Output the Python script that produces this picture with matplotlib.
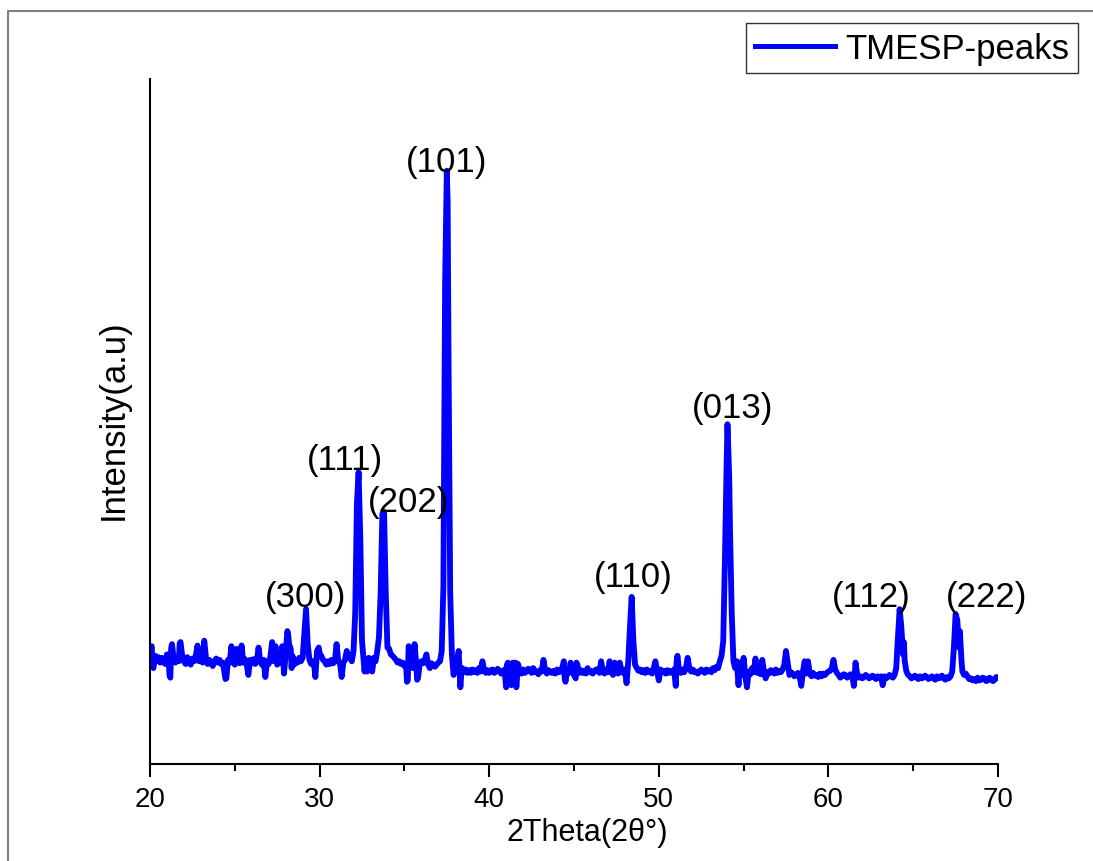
import matplotlib
matplotlib.use("Agg")
import matplotlib.pyplot as plt
from matplotlib.lines import Line2D
from matplotlib.ticker import MultipleLocator

plt.rcParams['font.family'] = ['Liberation Sans', 'DejaVu Sans']

# ---- data ----
two_theta = [
    20.0, 20.05, 20.1, 20.15, 20.2, 20.3, 20.4, 20.5, 20.6, 20.7,
    20.8, 20.9, 21.0, 21.1, 21.15, 21.2, 21.25, 21.3, 21.4, 21.5,
    21.6, 21.7, 21.75, 21.8, 21.9, 22.0, 22.1, 22.2, 22.3, 22.4,
    22.5, 22.6, 22.7, 22.8, 22.9, 23.0, 23.1, 23.2, 23.3, 23.4,
    23.5, 23.6, 23.7, 23.8, 23.9, 24.0, 24.1, 24.2, 24.3, 24.45,
    24.5, 24.6, 24.7, 24.8, 24.9, 25.0, 25.1, 25.2, 25.3, 25.4,
    25.5, 25.6, 25.7, 25.8, 25.9, 26.0, 26.1, 26.2, 26.3, 26.4,
    26.5, 26.6, 26.7, 26.8, 26.9, 27.0, 27.1, 27.2, 27.3, 27.4,
    27.5, 27.6, 27.7, 27.8, 27.85, 27.9, 28.0, 28.1, 28.15, 28.2,
    28.3, 28.35, 28.4, 28.5, 28.6, 28.7, 28.8, 28.9, 29.0, 29.1,
    29.2, 29.3, 29.4, 29.5, 29.6, 29.7, 29.75, 29.85, 29.95, 30.0,
    30.1, 30.2, 30.3, 30.4, 30.5, 30.6, 30.7, 30.8, 30.9, 31.0,
    31.1, 31.2, 31.3, 31.4, 31.5, 31.6, 31.7, 31.8, 31.9, 32.0,
    32.1, 32.2, 32.3, 32.4, 32.5, 32.6, 32.65, 32.7, 32.8, 32.9,
    33.0, 33.1, 33.2, 33.3, 33.4, 33.5, 33.6, 33.7, 33.8, 33.9,
    34.0, 34.1, 34.2, 34.3, 34.4, 34.5, 34.6, 34.7, 34.8, 34.9,
    35.0, 35.1, 35.15, 35.2, 35.25, 35.3, 35.4, 35.5, 35.6, 35.7,
    35.75, 35.8, 35.9, 36.0, 36.1, 36.2, 36.3, 36.4, 36.5, 36.6,
    36.7, 36.8, 36.9, 37.0, 37.1, 37.2, 37.3, 37.4, 37.5, 37.55,
    37.6, 37.7, 37.8, 37.9, 38.0, 38.1, 38.2, 38.25, 38.3, 38.35,
    38.4, 38.5, 38.6, 38.7, 38.8, 38.9, 39.0, 39.1, 39.2, 39.3,
    39.4, 39.5, 39.6, 39.7, 39.8, 39.9, 40.0, 40.1, 40.2, 40.3,
    40.4, 40.5, 40.6, 40.7, 40.8, 40.9, 41.0, 41.05, 41.1, 41.15,
    41.2, 41.3, 41.35, 41.4, 41.5, 41.55, 41.6, 41.7, 41.8, 41.9,
    42.0, 42.1, 42.2, 42.3, 42.4, 42.5, 42.6, 42.7, 42.8, 42.9,
    43.0, 43.1, 43.2, 43.3, 43.4, 43.5, 43.6, 43.7, 43.8, 43.9,
    44.0, 44.1, 44.2, 44.3, 44.4, 44.45, 44.5, 44.6, 44.7, 44.8,
    44.9, 45.0, 45.1, 45.15, 45.2, 45.3, 45.4, 45.5, 45.6, 45.7,
    45.8, 45.9, 46.0, 46.1, 46.2, 46.3, 46.4, 46.5, 46.6, 46.7,
    46.8, 46.9, 47.0, 47.1, 47.2, 47.3, 47.4, 47.5, 47.6, 47.7,
    47.8, 47.9, 48.0, 48.1, 48.2, 48.3, 48.4, 48.5, 48.6, 48.7,
    48.8, 48.9, 49.0, 49.1, 49.2, 49.3, 49.4, 49.5, 49.6, 49.7,
    49.8, 49.9, 50.0, 50.1, 50.2, 50.3, 50.4, 50.5, 50.6, 50.7,
    50.8, 50.9, 51.0, 51.05, 51.1, 51.2, 51.3, 51.4, 51.5, 51.6,
    51.7, 51.8, 51.9, 52.0, 52.1, 52.2, 52.3, 52.4, 52.5, 52.6,
    52.7, 52.8, 52.9, 53.0, 53.1, 53.2, 53.3, 53.4, 53.5, 53.6,
    53.7, 53.8, 53.9, 54.0, 54.05, 54.15, 54.2, 54.3, 54.4, 54.5,
    54.6, 54.7, 54.75, 54.8, 54.9, 55.0, 55.1, 55.2, 55.3, 55.4,
    55.5, 55.6, 55.7, 55.8, 55.9, 56.0, 56.1, 56.2, 56.3, 56.4,
    56.5, 56.6, 56.7, 56.8, 56.9, 57.0, 57.1, 57.2, 57.3, 57.4,
    57.5, 57.6, 57.7, 57.8, 57.9, 58.0, 58.1, 58.2, 58.3, 58.4,
    58.5, 58.6, 58.7, 58.8, 58.9, 59.0, 59.1, 59.2, 59.3, 59.4,
    59.5, 59.6, 59.7, 59.8, 59.9, 60.0, 60.1, 60.2, 60.3, 60.4,
    60.5, 60.6, 60.7, 60.8, 60.9, 61.0, 61.1, 61.2, 61.3, 61.4,
    61.5, 61.55, 61.6, 61.7, 61.8, 61.9, 62.0, 62.1, 62.2, 62.3,
    62.4, 62.5, 62.6, 62.7, 62.8, 62.9, 63.0, 63.1, 63.2, 63.3,
    63.4, 63.5, 63.6, 63.7, 63.8, 63.9, 64.0, 64.1, 64.2, 64.3,
    64.4, 64.45, 64.5, 64.6, 64.7, 64.8, 64.9, 65.0, 65.1, 65.2,
    65.3, 65.4, 65.5, 65.6, 65.7, 65.8, 65.9, 66.0, 66.1, 66.2,
    66.3, 66.4, 66.5, 66.6, 66.7, 66.8, 66.9, 67.0, 67.1, 67.2,
    67.3, 67.4, 67.5, 67.6, 67.7, 67.75, 67.85, 67.9, 68.0, 68.1,
    68.2, 68.3, 68.4, 68.5, 68.6, 68.7, 68.8, 68.9, 69.0, 69.1,
    69.2, 69.3, 69.4, 69.5, 69.6, 69.7, 69.8, 69.9, 70.0,
]
intensity = [
    150, 168, 172, 145, 140, 158, 150, 156, 148, 155,
    150, 146, 160, 150, 130, 126, 170, 175, 152, 148,
    156, 150, 176, 178, 158, 150, 146, 156, 148, 145,
    154, 150, 158, 173, 150, 155, 148, 180, 155, 146,
    152, 147, 143, 150, 154, 148, 152, 146, 148, 124,
    125, 152, 148, 172, 150, 145, 168, 150, 147, 173,
    148, 153, 146, 130, 152, 147, 153, 146, 150, 170,
    150, 145, 152, 127, 150, 146, 157, 178, 150, 172,
    145, 153, 148, 172, 155, 132, 160, 194, 188, 175,
    168, 140, 158, 145, 152, 148, 155, 150, 155, 190,
    226, 175, 152, 146, 150, 140, 127, 165, 170, 162,
    158, 152, 150, 145, 150, 146, 152, 147, 150, 175,
    150, 148, 127, 148, 152, 165, 158, 155, 150, 165,
    220, 380, 426, 330, 180, 150, 135, 148, 135, 155,
    150, 135, 155, 150, 165, 185, 250, 365, 368, 250,
    170, 168, 160, 158, 155, 152, 148, 150, 146, 148,
    143, 145, 120, 122, 172, 170, 150, 140, 175, 145,
    123, 125, 145, 150, 147, 152, 160, 145, 140, 147,
    145, 142, 145, 148, 150, 165, 260, 700, 866, 820,
    600, 250, 160, 130, 138, 150, 165, 140, 112, 130,
    140, 134, 138, 133, 137, 133, 138, 134, 137, 133,
    140, 135, 150, 137, 133, 137, 133, 137, 138, 133,
    135, 139, 136, 132, 135, 138, 112, 145, 148, 120,
    135, 115, 145, 148, 130, 148, 112, 146, 136, 132,
    138, 133, 135, 139, 138, 133, 140, 134, 135, 131,
    137, 135, 152, 136, 132, 137, 135, 133, 136, 132,
    138, 134, 135, 140, 150, 125, 120, 137, 133, 148,
    135, 130, 125, 148, 145, 133, 137, 133, 136, 132,
    140, 134, 136, 132, 135, 138, 138, 133, 150, 135,
    132, 138, 134, 150, 135, 130, 148, 135, 132, 148,
    136, 133, 138, 118, 150, 200, 244, 180, 145, 140,
    136, 138, 134, 137, 133, 138, 134, 136, 132, 140,
    150, 135, 122, 138, 134, 136, 132, 137, 133, 136,
    133, 138, 114, 150, 158, 135, 133, 138, 134, 140,
    155, 140, 135, 138, 134, 135, 132, 135, 138, 136,
    133, 138, 135, 137, 134, 140, 137, 142, 140, 150,
    158, 180, 300, 440, 496, 420, 340, 220, 150, 140,
    150, 115, 135, 148, 130, 155, 128, 112, 135, 131,
    140, 134, 154, 133, 136, 131, 152, 135, 125, 134,
    132, 137, 136, 132, 138, 133, 136, 134, 138, 145,
    165, 148, 130, 134, 132, 128, 130, 133, 128, 114,
    135, 150, 132, 150, 132, 128, 133, 129, 130, 127,
    132, 128, 132, 130, 133, 135, 136, 140, 152, 138,
    133, 130, 126, 128, 131, 130, 126, 128, 131, 130,
    114, 128, 148, 130, 126, 128, 125, 127, 130, 128,
    125, 127, 129, 127, 124, 128, 126, 128, 115, 128,
    125, 127, 130, 128, 126, 130, 140, 185, 226, 200,
    160, 178, 150, 135, 130, 128, 125, 127, 129, 126,
    124, 128, 125, 126, 129, 127, 124, 126, 128, 125,
    123, 128, 125, 126, 129, 125, 123, 127, 125, 128,
    135, 170, 219, 210, 170, 194, 150, 135, 130, 132,
    128, 124, 125, 122, 124, 121, 126, 122, 123, 126,
    125, 121, 122, 126, 124, 121, 123, 127, 126,
]

peak_labels = ["(300)", "(111)", "(202)", "(101)", "(110)", "(013)", "(112)", "(222)"]
label_x = [29.2, 31.5, 35.27, 37.51, 48.48, 54.32, 62.51, 69.35]
label_y = [245, 445, 383, 879, 273, 521, 245, 245]

series_name = "TMESP-peaks"
x_ticks = [20, 30, 40, 50, 60, 70]

n = min(len(two_theta), len(intensity))

# ---- figure ----
W, H = 1093, 862
fig = plt.figure(figsize=(W / 100, H / 100), dpi=100)
ax = fig.add_axes([150 / W, 1 - 765 / H, 848 / W, 685 / H])

line, = ax.plot(two_theta[:n], intensity[:n], color='#0000FF', lw=4.2,
                solid_joinstyle='round', solid_capstyle='round', label=series_name)

ax.set_xlim(20, 70)
ax.set_ylim(0, 1000)
ax.set_xticks(x_ticks)
ax.xaxis.set_minor_locator(MultipleLocator(5))
ax.set_yticks([])

for s in ['top', 'right']:
    ax.spines[s].set_visible(False)
for s in ['left', 'bottom']:
    ax.spines[s].set_linewidth(1.5)
    ax.spines[s].set_color('black')

ax.tick_params(axis='x', which='major', direction='out', length=9.5, width=1.5,
               labelsize=20, pad=6, colors='black')
ax.tick_params(axis='x', which='minor', direction='out', length=5, width=1.5)

ax.set_xlabel("2Theta(2θ°)", fontsize=22)
ax.xaxis.label.set_verticalalignment('center')
ax.xaxis.set_label_coords((587 - 150) / 848, (765 - 833) / 685)
ax.set_ylabel("Intensity(a.u)", fontsize=25)
ax.yaxis.label.set_verticalalignment('center')
ax.yaxis.set_label_coords((113 - 150) / 848, (765 - 420) / 685)

for t, xx, yy in zip(peak_labels, label_x, label_y):
    ax.text(xx, yy, t, ha='center', va='center', fontsize=25, color='black')

leg_line = Line2D([], [], color='#0000FF', lw=3.6)
leg = fig.legend(handles=[leg_line], labels=[series_name], loc='upper right',
                 bbox_to_anchor=(1078 / W, 1 - 24 / H), fontsize=25,
                 frameon=True, fancybox=False, handlelength=2.3,
                 handletextpad=0.3, borderpad=0.25, borderaxespad=0)
leg.get_frame().set_edgecolor('black')
leg.get_frame().set_linewidth(1.0)

# outer frame (top and left edges visible)
fig.add_artist(Line2D([8 / W, 8 / W, 1.0], [0.0, 1 - 12 / H, 1 - 12 / H],
                      transform=fig.transFigure, color='#808080', lw=1.5))

fig.savefig("out.png", dpi=100)
